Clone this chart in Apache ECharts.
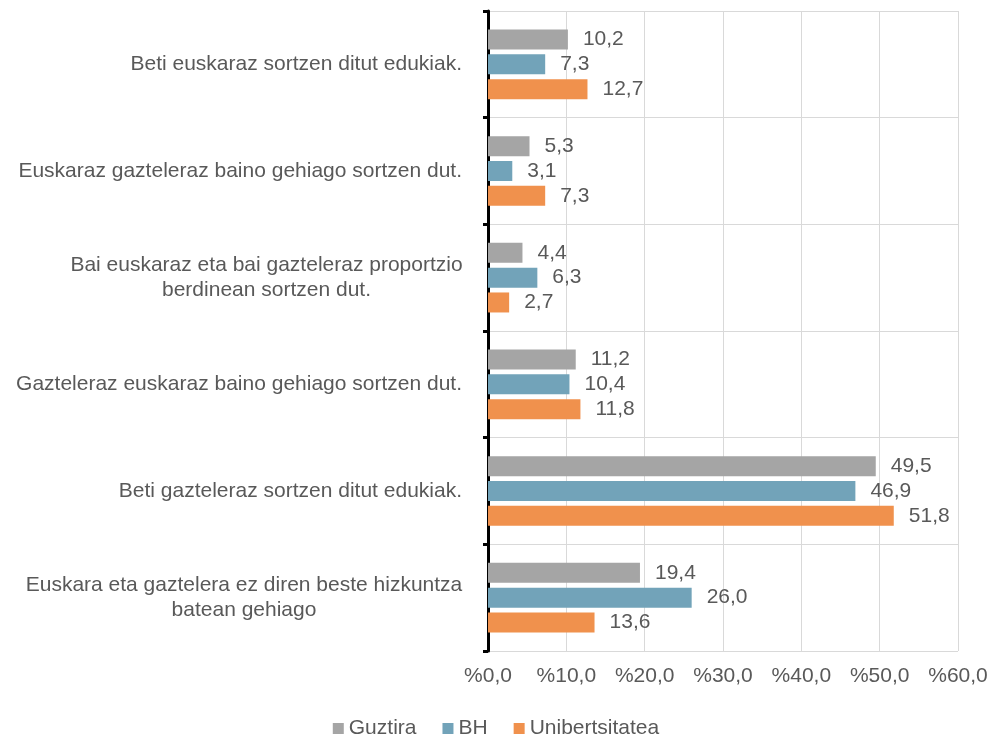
<!DOCTYPE html>
<html><head><meta charset="utf-8">
<script src="https://cdn.jsdelivr.net/npm/echarts@6/dist/echarts.min.js"></script>
<style>html,body{margin:0;padding:0;background:#fff}#c{width:992px;height:737px}</style>
</head><body><div id="c"></div>
<script>
const categories = [
  "Beti euskaraz sortzen ditut edukiak.",
  "Euskaraz gazteleraz baino gehiago sortzen dut.",
  "Bai euskaraz eta bai gazteleraz proportzio\nberdinean sortzen dut.",
  "Gazteleraz euskaraz baino gehiago sortzen dut.",
  "Beti gazteleraz sortzen ditut edukiak.",
  "Euskara eta gaztelera ez diren beste hizkuntza\nbatean gehiago"
];
const seriesNames = ["Guztira", "BH", "Unibertsitatea"];
const guztira = [10.2, 5.3, 4.4, 11.2, 49.5, 19.4];
const bh = [7.3, 3.1, 6.3, 10.4, 46.9, 26.0];
const unibertsitatea = [12.7, 7.3, 2.7, 11.8, 51.8, 13.6];
const xTicks = [0, 10, 20, 30, 40, 50, 60];

const colors = ["#a5a5a5", "#72a3b9", "#f0914d"];
const txt = "#595959";
const FS = 21;
const fmt = v => v.toFixed(1).replace('.', ',');

const chart = echarts.init(document.getElementById('c'));
const mk = (name, data, color) => ({
  name, type: 'bar', data, barWidth: 20, barGap: '24%',
  itemStyle: { color },
  label: { show: true, position: 'right', distance: 15, color: txt, fontSize: FS,
    fontFamily: 'Liberation Sans, Arial', formatter: p => fmt(p.value) }
});
chart.setOption({
  animation: false,
  textStyle: { fontFamily: 'Liberation Sans, Arial' },
  grid: { left: 488, right: 34, top: 11, bottom: 86, containLabel: false },
  legend: {
    data: seriesNames, top: 713, left: 'center', itemWidth: 11, itemHeight: 11, itemGap: 26,
    icon: 'rect', textStyle: { color: txt, fontSize: FS }
  },
  xAxis: {
    type: 'value', min: xTicks[0], max: xTicks[xTicks.length - 1], interval: 10,
    axisLine: { show: false }, axisTick: { show: false },
    splitLine: { lineStyle: { color: '#d9d9d9', width: 1 } },
    axisLabel: { color: txt, fontSize: FS, margin: 15, formatter: v => '%' + fmt(v) }
  },
  yAxis: {
    type: 'category', data: categories, inverse: true,
    axisLine: { show: true, lineStyle: { color: '#000', width: 3 } },
    axisTick: { show: true, length: 5, lineStyle: { color: '#000', width: 3 } },
    splitLine: { show: true, lineStyle: { color: '#d9d9d9', width: 1 } },
    axisLabel: {
      color: txt, fontSize: FS, margin: 26, lineHeight: 25,
      formatter: v => {
        const lines = v.split('\n');
        if (lines.length === 1) return v;
        const key = lines[0].length > 43 ? 'cb' : 'ca';
        return lines.map(l => '{' + key + '|' + l + '}').join('\n');
      },
      rich: {
        ca: { width: 391, align: 'center', color: txt, fontSize: FS, lineHeight: 25 },
        cb: { width: 436, align: 'center', color: txt, fontSize: FS, lineHeight: 25 }
      }
    }
  },
  series: [mk(seriesNames[0], guztira, colors[0]), mk(seriesNames[1], bh, colors[1]), mk(seriesNames[2], unibertsitatea, colors[2])]
});
</script></body></html>
